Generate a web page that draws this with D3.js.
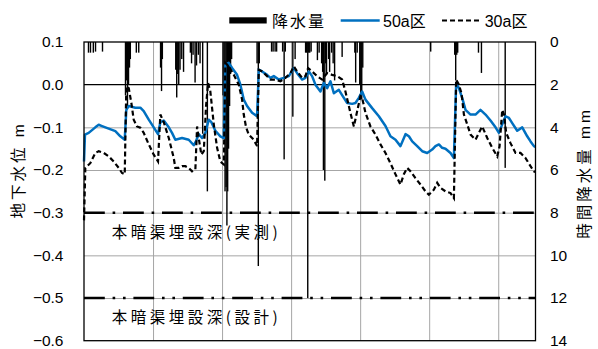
<!DOCTYPE html>
<html><head><meta charset="utf-8">
<script src="https://cdn.jsdelivr.net/npm/d3@7"></script>
<style>
body{margin:0;background:#fff}
text{font-family:'Liberation Sans','Noto Sans CJK JP',sans-serif;fill:#000}
.tick text{font-size:15.5px}
.cjk{font-family:'Noto Sans CJK JP','Liberation Sans',sans-serif}
</style></head>
<body><svg id="c" width="598" height="349"></svg>
<script>
// ---- data (time in days, groundwater level in m, rainfall in mm/h) ----
const leftTicks = [0.1, 0.0, -0.1, -0.2, -0.3, -0.4, -0.5, -0.6];
const rightTicks = [0, 2, 4, 6, 8, 10, 12, 14];
const timeGrid = [10, 20, 30, 40, 50, 60];
const series50 = [[0,-0.18],[0.14,-0.117],[0.68,-0.113],[1.64,-0.100],[2.13,-0.094],[2.61,-0.097],[3.58,-0.103],[4.54,-0.109],[5.26,-0.121],[5.90,-0.129],[6.13,-0.059],[6.48,-0.050],[7.43,-0.054],[8.16,-0.054],[8.65,-0.062],[9.38,-0.082],[10.10,-0.100],[10.72,-0.116],[11.06,-0.088],[11.55,-0.084],[12.28,-0.100],[12.75,-0.113],[13.23,-0.129],[14.20,-0.125],[15.17,-0.129],[15.90,-0.142],[16.23,-0.132],[16.62,-0.116],[17.10,-0.125],[17.58,-0.113],[18.07,-0.082],[18.45,-0.088],[19.03,-0.108],[19.75,-0.121],[20.25,-0.125],[20.48,0.047],[20.97,0.051],[21.45,0.039],[22.17,0.023],[22.65,0.000],[23.14,-0.035],[23.62,-0.050],[24.35,-0.066],[25.07,-0.074],[25.32,0.035],[25.80,0.031],[26.52,0.023],[27.00,0.016],[27.49,0.020],[28.22,0.012],[28.94,0.016],[29.67,0.020],[30.39,0.039],[30.87,0.027],[31.59,0.012],[32.07,0.016],[32.57,0.031],[33.04,0.020],[33.52,0.000],[34.25,-0.016],[34.74,0.004],[35.22,-0.008],[35.70,0.008],[36.19,-0.020],[36.91,-0.012],[37.64,-0.031],[38.12,-0.043],[38.84,-0.045],[39.32,-0.043],[39.81,-0.031],[40.29,-0.016],[40.77,-0.035],[41.74,-0.055],[42.71,-0.074],[43.67,-0.097],[44.39,-0.121],[45.12,-0.129],[45.84,-0.144],[46.57,-0.116],[47.06,-0.121],[47.54,-0.133],[48.26,-0.144],[48.99,-0.156],[49.71,-0.160],[50.43,-0.152],[50.91,-0.144],[51.41,-0.140],[51.88,-0.148],[52.36,-0.150],[53.09,-0.160],[53.58,-0.172],[53.91,0.004],[54.30,-0.008],[54.78,-0.031],[55.26,-0.059],[55.99,-0.070],[56.71,-0.070],[57.43,-0.059],[58.16,-0.070],[58.88,-0.084],[59.61,-0.100],[60.10,-0.113],[60.58,-0.093],[61.06,-0.074],[61.55,-0.078],[62.03,-0.090],[62.75,-0.108],[63.48,-0.100],[64.20,-0.121],[64.68,-0.133],[65.17,-0.144],[65.40,-0.146]];
const series30 = [[0,-0.318],[0.19,-0.195],[0.91,-0.184],[1.64,-0.160],[2.13,-0.156],[2.86,-0.160],[3.58,-0.168],[4.30,-0.180],[5.03,-0.195],[5.51,-0.207],[5.90,-0.210],[6.13,-0.004],[6.48,-0.008],[6.86,-0.043],[7.20,-0.082],[7.68,-0.098],[8.16,-0.101],[8.65,-0.113],[9.38,-0.140],[10.10,-0.164],[10.72,-0.180],[11.06,-0.070],[11.55,-0.088],[12.28,-0.125],[13.00,-0.172],[13.23,-0.195],[13.72,-0.195],[14.20,-0.191],[14.68,-0.191],[15.17,-0.195],[15.65,-0.203],[16.13,-0.199],[16.38,-0.098],[16.62,-0.125],[17.00,-0.164],[17.35,-0.156],[17.68,-0.050],[17.97,0.004],[18.30,-0.016],[18.80,-0.093],[19.28,-0.148],[19.75,-0.180],[20.25,-0.187],[20.48,0.051],[20.97,0.043],[21.70,0.023],[22.42,0.000],[22.90,-0.035],[23.14,-0.070],[23.48,-0.100],[23.87,-0.117],[24.59,-0.129],[25.07,-0.144],[25.32,0.035],[25.80,0.031],[26.52,0.020],[27.00,0.012],[27.72,0.012],[28.45,0.008],[29.17,0.016],[29.90,0.027],[30.39,0.043],[30.87,0.031],[31.59,0.016],[32.07,0.020],[32.46,0.039],[33.04,0.031],[33.77,0.020],[34.49,0.012],[35.22,0.027],[35.94,0.023],[36.67,0.020],[37.39,0.012],[37.87,-0.016],[38.26,-0.043],[38.59,-0.066],[39.09,-0.098],[39.57,-0.062],[40.04,-0.027],[40.29,-0.031],[40.77,-0.066],[41.49,-0.098],[42.22,-0.117],[42.94,-0.140],[43.67,-0.160],[44.39,-0.184],[45.12,-0.210],[45.84,-0.234],[46.33,-0.210],[46.81,-0.195],[47.29,-0.203],[48.01,-0.219],[48.74,-0.234],[49.46,-0.250],[49.96,-0.258],[50.68,-0.246],[51.16,-0.230],[51.64,-0.242],[52.36,-0.250],[53.09,-0.254],[53.58,-0.266],[53.91,0.012],[54.30,0.000],[54.68,-0.020],[55.03,-0.070],[55.51,-0.093],[55.99,-0.117],[56.71,-0.129],[57.20,-0.113],[57.68,-0.098],[58.41,-0.125],[59.13,-0.148],[59.86,-0.168],[60.19,-0.145],[60.58,-0.059],[60.83,-0.070],[61.16,-0.113],[61.78,-0.137],[62.51,-0.160],[63.23,-0.160],[63.96,-0.172],[64.68,-0.191],[65.17,-0.203],[65.40,-0.205]];
const rain = [[0.65,0.5],[0.94,0.5],[1.35,0.5],[1.67,0.45],[2.68,0.45],[6.01,2.5],[6.16,1.8],[6.30,3.0],[6.45,2.0],[6.59,1.2],[6.71,0.8],[7.58,0.5],[7.93,0.5],[11.09,1.2],[11.23,2.3],[11.35,0.8],[13.29,1.3],[13.43,2.6],[13.58,1.5],[13.72,2.0],[13.91,1.3],[14.16,0.8],[14.42,1.4],[15.41,0.5],[15.58,1.0],[15.80,0.6],[16.09,1.9],[16.30,1.1],[16.57,0.6],[16.81,1.0],[17.19,4.3],[17.87,7.0],[20.14,2.5],[20.29,4.0],[20.43,7.0],[20.58,6.8],[20.70,8.6],[20.81,7.0],[20.94,5.0],[21.09,3.0],[21.23,1.5],[21.38,0.8],[25.07,1.0],[25.25,10.5],[25.39,1.0],[27.17,0.45],[27.39,0.45],[27.68,0.45],[27.90,0.45],[28.77,0.45],[28.99,5.5],[29.16,0.45],[30.25,3.5],[30.58,0.8],[32.10,0.5],[32.25,0.5],[32.41,12],[32.55,0.5],[32.70,0.5],[32.90,0.45],[33.81,0.85],[34.06,0.5],[34.42,1.0],[34.57,1.4],[34.68,6.0],[34.88,6.5],[35.01,1.0],[35.13,1.5],[35.43,0.8],[35.58,1.4],[35.87,0.5],[36.09,1.0],[36.30,1.8],[37.39,0.7],[39.23,0.5],[39.35,1.9],[39.57,0.5],[39.94,2.0],[40.09,2.4],[40.23,2.7],[40.38,1.2],[50.22,0.45],[53.70,0.6],[53.84,1.8],[53.99,0.6],[54.13,0.5],[57.14,0.5],[57.57,1.45],[61.01,5.9]];
const depthMeasured = -0.3, depthDesign = -0.5;
const labelMeasured = "本暗渠埋設深(実測)", labelDesign = "本暗渠埋設深(設計)";
const legendNames = ["降水量", "50a区", "30a区"];

// ---- chart ----
const m = {l:84, r:535.5, t:42, b:340.7};
const svg = d3.select("#c");
const x = d3.scaleLinear().domain([0, 65.4]).range([m.l, m.r]);
const yL = d3.scaleLinear().domain([-0.6, 0.1]).range([m.b, m.t]);
const yR = d3.scaleLinear().domain([0, 14]).range([m.t, m.b]);

// grid
const gx = svg.append("g").attr("transform", `translate(0,${m.b})`)
  .call(d3.axisBottom(x).tickValues(timeGrid).tickSize(-(m.b - m.t)).tickFormat(""));
gx.select(".domain").remove();
gx.selectAll("line").attr("stroke", "#a6a6a6").attr("stroke-width", 1);
const gy = svg.append("g").attr("transform", `translate(${m.l},0)`)
  .call(d3.axisLeft(yL).tickValues(leftTicks.filter(v => v !== 0.1 && v !== -0.6 && v !== 0)).tickSize(-(m.r - m.l)).tickFormat(""));
gy.select(".domain").remove();
gy.selectAll("line").attr("stroke", "#a6a6a6").attr("stroke-width", 1);

// rain bars (reversed secondary axis)
svg.append("g").selectAll("rect").data(rain).join("rect")
  .attr("x", d => x(d[0]) - 0.7).attr("y", yR(0))
  .attr("width", 1.4).attr("height", d => yR(d[1]) - yR(0)).attr("fill", "#000");

// zero axis line
svg.append("line").attr("x1", m.l).attr("x2", m.r).attr("y1", yL(0)).attr("y2", yL(0))
  .attr("stroke", "#000").attr("stroke-width", 1.3);

// reference depth lines
svg.append("line").attr("x1", m.l).attr("x2", m.r).attr("y1", yL(depthMeasured)).attr("y2", yL(depthMeasured))
  .attr("stroke", "#000").attr("stroke-width", 2.6).attr("stroke-dasharray", "20.8,7.8,2.6,7.8");
svg.append("line").attr("x1", m.l).attr("x2", m.r).attr("y1", yL(depthDesign)).attr("y2", yL(depthDesign))
  .attr("stroke", "#000").attr("stroke-width", 2.6).attr("stroke-dasharray", "20.8,7.8,2.6,7.8,2.6,7.8");

// series lines
const line = d3.line().x(d => x(d[0])).y(d => yL(d[1]));
svg.append("path").datum(series50).attr("d", line).attr("fill", "none")
  .attr("stroke", "#0070C0").attr("stroke-width", 2.5).attr("stroke-linejoin", "round");
svg.append("path").datum(series30).attr("d", line).attr("fill", "none")
  .attr("stroke", "#000").attr("stroke-width", 2.2).attr("stroke-dasharray", "5,3");

// plot border
svg.append("rect").attr("x", m.l).attr("y", m.t).attr("width", m.r - m.l).attr("height", m.b - m.t)
  .attr("fill", "none").attr("stroke", "#000").attr("stroke-width", 1.3);

// axes labels
const al = svg.append("g").attr("transform", `translate(${m.l},0)`)
  .call(d3.axisLeft(yL).tickValues(leftTicks).tickSize(0).tickPadding(20.5).tickFormat(d3.format(".1f")));
al.select(".domain").remove();
const ar = svg.append("g").attr("transform", `translate(${m.r},0)`)
  .call(d3.axisRight(yR).tickValues(rightTicks).tickSize(0).tickPadding(14.5));
ar.select(".domain").remove();

// depth labels
svg.append("text").attr("class", "cjk").attr("x", 111.7).attr("y", 237.5)
  .attr("font-size", "15.5px").attr("letter-spacing", "3.5px").text(labelMeasured);
svg.append("text").attr("class", "cjk").attr("x", 111.7).attr("y", 322.5)
  .attr("font-size", "15.5px").attr("letter-spacing", "3.5px").text(labelDesign);

// axis titles
svg.append("text").attr("transform", "translate(18.5,170) rotate(-90)").attr("text-anchor", "middle")
  .attr("dominant-baseline", "central").attr("font-size", "15.5px").attr("letter-spacing", "3px").text("地下水位 m");
svg.append("text").attr("transform", "translate(584.5,173) rotate(-90)").attr("text-anchor", "middle")
  .attr("dominant-baseline", "central").attr("font-size", "15.5px").attr("letter-spacing", "3px").text("時間降水量 mm");

// legend
const lg = svg.append("g");
lg.append("rect").attr("x", 229.3).attr("y", 17.3).attr("width", 37.4).attr("height", 6.2).attr("fill", "#000");
lg.append("text").attr("x", 272).attr("y", 26.5).attr("font-size", "16px").attr("letter-spacing", "2px").text(legendNames[0]);
lg.append("line").attr("x1", 340.7).attr("x2", 379.7).attr("y1", 20.5).attr("y2", 20.5)
  .attr("stroke", "#0070C0").attr("stroke-width", 2.5);
lg.append("text").attr("x", 383).attr("y", 26.5).attr("font-size", "16px").text(legendNames[1]);
lg.append("line").attr("x1", 442).attr("x2", 480.7).attr("y1", 20.5).attr("y2", 20.5)
  .attr("stroke", "#000").attr("stroke-width", 2.2).attr("stroke-dasharray", "5,3");
lg.append("text").attr("x", 484.7).attr("y", 26.5).attr("font-size", "16px").text(legendNames[2]);
</script></body></html>
